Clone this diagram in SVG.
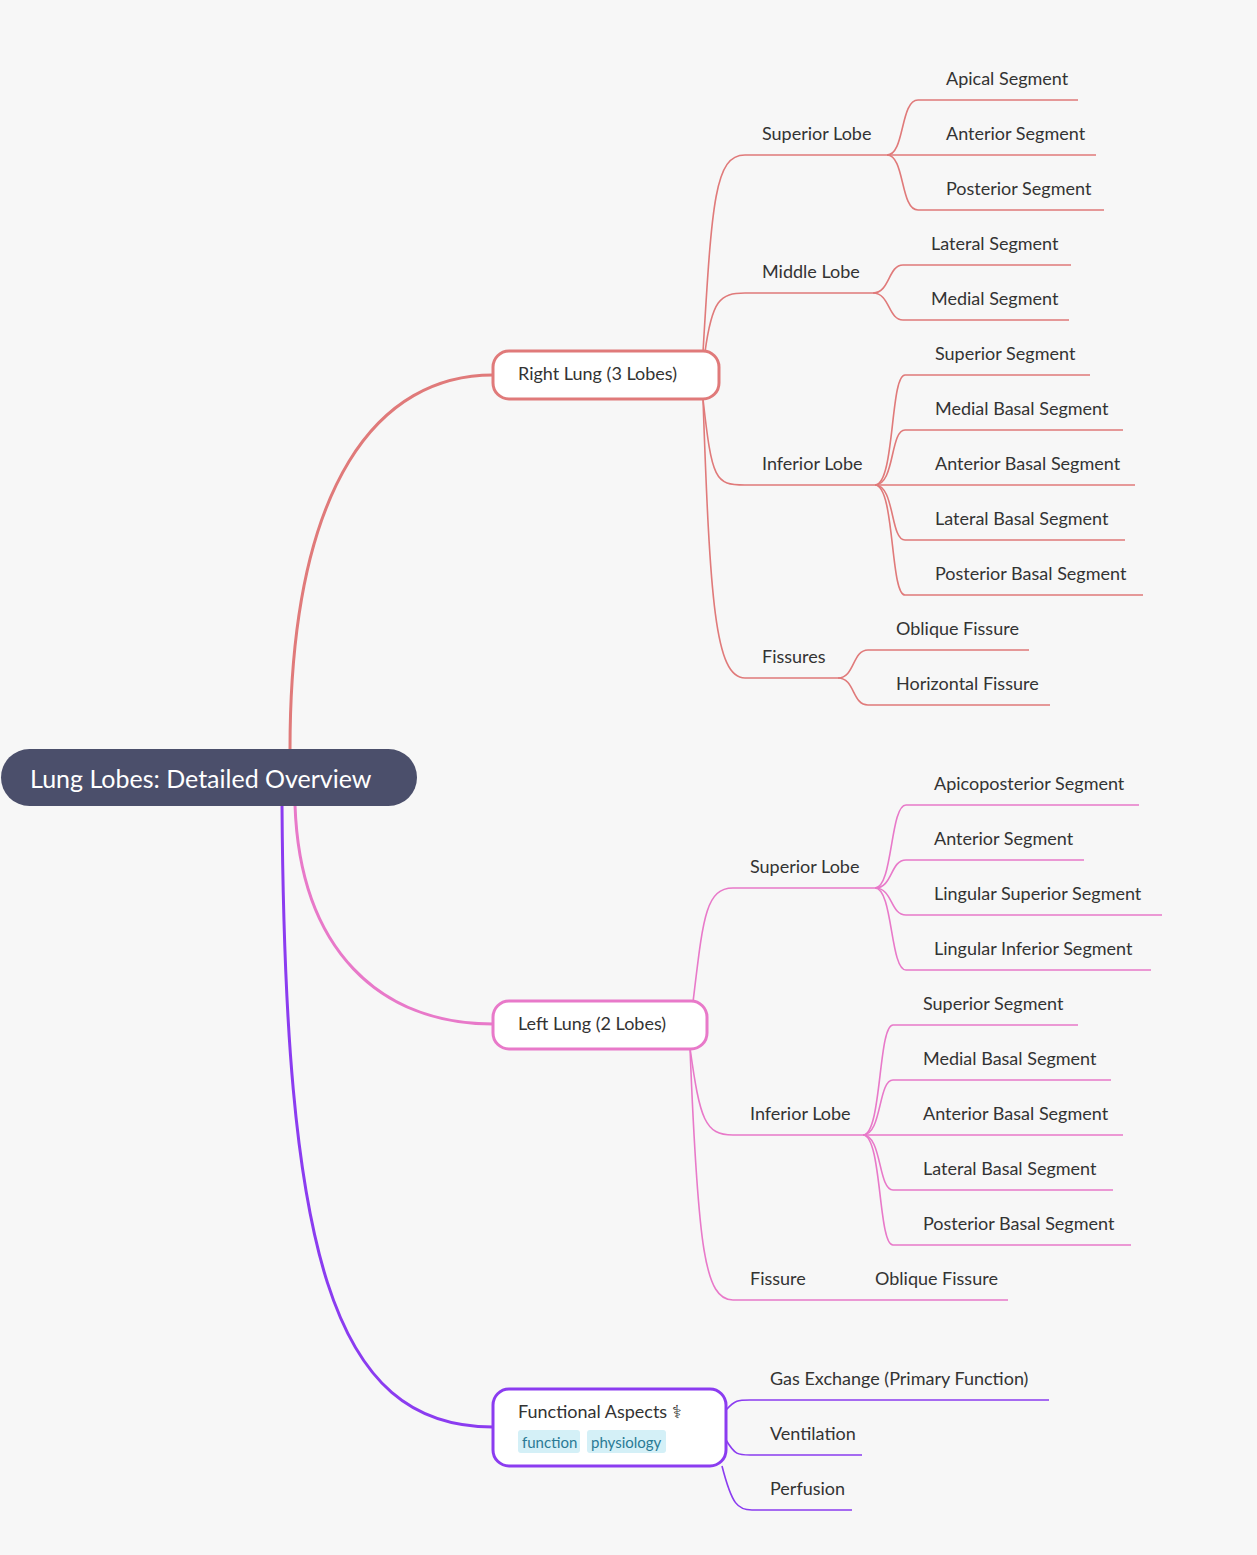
<svg xmlns="http://www.w3.org/2000/svg" width="1257" height="1555" viewBox="0 0 1257 1555">
<style>
text{font-family:Lato,"Noto Sans",sans-serif;fill:#333;font-size:18px}
.r{stroke:#E07A7A}.l{stroke:#E879C9}.f{stroke:#8B3CF0}
#connectors path{fill:none;stroke-width:1.6}
#connectors path.m{stroke-width:3}
.node{fill:#fff;stroke-width:3}
.tag{fill:#D4F0F7}
.tt{fill:#2A7A95;font-size:15px}
</style>
<rect width="1257" height="1555" fill="#F7F7F7"/>
<g id="connectors">
<path class="m r" d="M290,750 C290,480 380,375 493,375"/>
<path class="m l" d="M295,805 C300,950 380,1024 493,1024"/>
<path class="m f" d="M282,805 C285,1250 330,1427 493,1427"/>
<!-- right lung -->
<path class="r" d="M703,352 C712,200 715,155 745,155 L887,155"/>
<path class="r" d="M705,352 C712,300 720,293 745,293 L873,293"/>
<path class="r" d="M703,399 C712,480 715,485 745,485 L875,485"/>
<path class="r" d="M703,399 C710,600 715,678 745,678 L838,678"/>
<path class="r" d="M887,155 C905,155 900,100 918,100 L1078,100"/>
<path class="r" d="M887,155 L1096,155"/>
<path class="r" d="M887,155 C905,155 900,210 918,210 L1104,210"/>
<path class="r" d="M873,293 C890,293 888,265 903,265 L1071,265"/>
<path class="r" d="M873,293 C890,293 888,320 903,320 L1069,320"/>
<path class="r" d="M875,485 C895,485 890,375 905,375 L1090,375"/>
<path class="r" d="M875,485 C895,485 890,430 905,430 L1123,430"/>
<path class="r" d="M875,485 L1135,485"/>
<path class="r" d="M875,485 C895,485 890,540 905,540 L1125,540"/>
<path class="r" d="M875,485 C895,485 890,595 905,595 L1143,595"/>
<path class="r" d="M838,678 C855,678 852,650 868,650 L1029,650"/>
<path class="r" d="M838,678 C855,678 852,705 868,705 L1050,705"/>
<!-- left lung -->
<path class="l" d="M693,1002 C703,920 705,888 733,888 L875,888"/>
<path class="l" d="M690,1048 C700,1120 705,1135 733,1135 L863,1135"/>
<path class="l" d="M690,1048 C698,1250 705,1300 733,1300 L1008,1300"/>
<path class="l" d="M875,888 C893,888 890,805 906,805 L1139,805"/>
<path class="l" d="M875,888 C893,888 890,860 906,860 L1084,860"/>
<path class="l" d="M875,888 C893,888 890,915 906,915 L1162,915"/>
<path class="l" d="M875,888 C893,888 890,970 906,970 L1151,970"/>
<path class="l" d="M863,1135 C882,1135 878,1025 893,1025 L1078,1025"/>
<path class="l" d="M863,1135 C882,1135 878,1080 893,1080 L1111,1080"/>
<path class="l" d="M863,1135 L1123,1135"/>
<path class="l" d="M863,1135 C882,1135 878,1190 893,1190 L1113,1190"/>
<path class="l" d="M863,1135 C882,1135 878,1245 893,1245 L1131,1245"/>
<!-- functional -->
<path class="f" d="M726,1410 C735,1400 738,1400 750,1400 L1049,1400"/>
<path class="f" d="M726,1440 C735,1455 738,1455 750,1455 L862,1455"/>
<path class="f" d="M722,1466 C732,1505 738,1510 752,1510 L852,1510"/>
</g>
<g id="root"><rect x="1" y="749" width="416" height="57" rx="28.5" fill="#4B4F6B"/><text x="30" y="788" style="fill:#fff;font-size:25px">Lung Lobes: Detailed Overview</text></g>
<g id="right"><rect class="node r" x="493" y="351" width="226" height="48" rx="16"/><text x="518" y="380">Right Lung (3 Lobes)</text></g>
<g id="left"><rect class="node l" x="493" y="1001" width="214" height="48" rx="16"/><text x="518" y="1030">Left Lung (2 Lobes)</text></g>
<g id="func"><rect class="node f" x="493" y="1389" width="233" height="77" rx="16"/><text x="518" y="1418">Functional Aspects ⚕</text>
<rect class="tag" x="518" y="1430" width="62" height="23" rx="3"/><text class="tt" x="522" y="1448">function</text>
<rect class="tag" x="587" y="1430" width="79" height="23" rx="3"/><text class="tt" x="591" y="1448">physiology</text></g>
<g id="labels">
<text x="762" y="140">Superior Lobe</text>
<text x="946" y="85">Apical Segment</text>
<text x="946" y="140">Anterior Segment</text>
<text x="946" y="195">Posterior Segment</text>
<text x="762" y="278">Middle Lobe</text>
<text x="931" y="250">Lateral Segment</text>
<text x="931" y="305">Medial Segment</text>
<text x="762" y="470">Inferior Lobe</text>
<text x="935" y="360">Superior Segment</text>
<text x="935" y="415">Medial Basal Segment</text>
<text x="935" y="470">Anterior Basal Segment</text>
<text x="935" y="525">Lateral Basal Segment</text>
<text x="935" y="580">Posterior Basal Segment</text>
<text x="762" y="663">Fissures</text>
<text x="896" y="635">Oblique Fissure</text>
<text x="896" y="690">Horizontal Fissure</text>
<text x="750" y="873">Superior Lobe</text>
<text x="934" y="790">Apicoposterior Segment</text>
<text x="934" y="845">Anterior Segment</text>
<text x="934" y="900">Lingular Superior Segment</text>
<text x="934" y="955">Lingular Inferior Segment</text>
<text x="750" y="1120">Inferior Lobe</text>
<text x="923" y="1010">Superior Segment</text>
<text x="923" y="1065">Medial Basal Segment</text>
<text x="923" y="1120">Anterior Basal Segment</text>
<text x="923" y="1175">Lateral Basal Segment</text>
<text x="923" y="1230">Posterior Basal Segment</text>
<text x="750" y="1285">Fissure</text>
<text x="875" y="1285">Oblique Fissure</text>
<text x="770" y="1385">Gas Exchange (Primary Function)</text>
<text x="770" y="1440">Ventilation</text>
<text x="770" y="1495">Perfusion</text>
</g>
</svg>
